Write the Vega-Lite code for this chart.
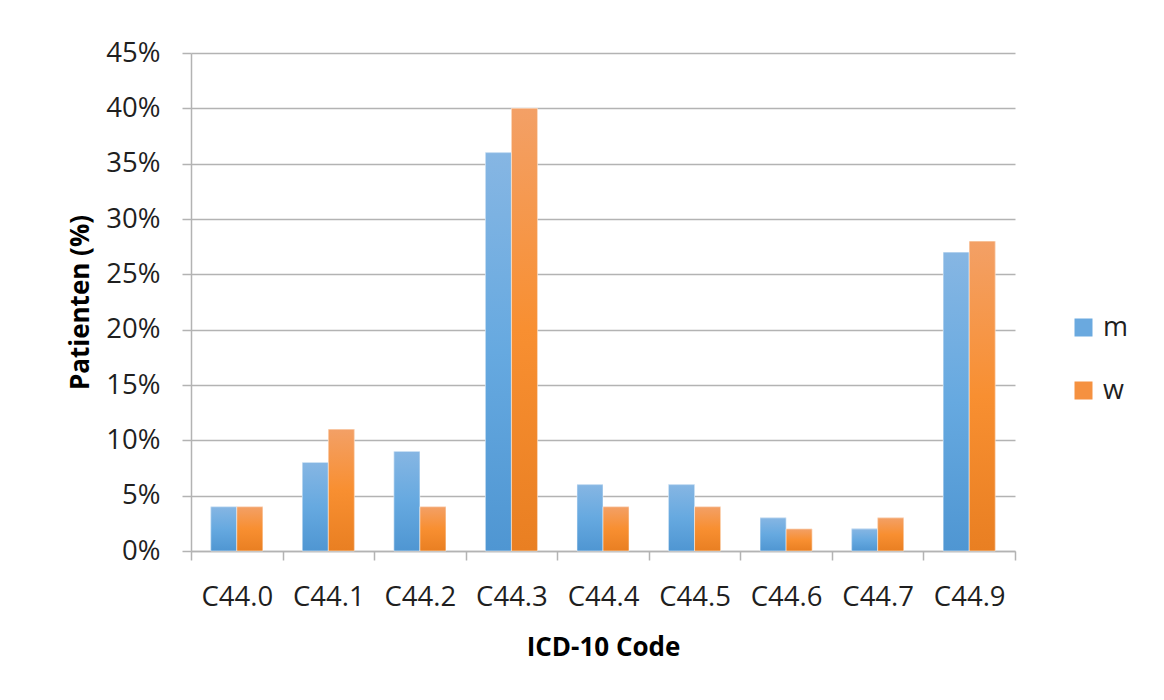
{
  "$schema": "https://vega.github.io/schema/vega-lite/v6.json",
  "width": 824,
  "height": 498,
  "autosize": {"type": "none"},
  "padding": {"left": 191, "top": 53, "right": 149, "bottom": 149},
  "background": "white",
  "data": {
    "values": [
      {"code": "C44.0", "sex": "m", "share": 0.04},
      {"code": "C44.0", "sex": "w", "share": 0.04},
      {"code": "C44.1", "sex": "m", "share": 0.08},
      {"code": "C44.1", "sex": "w", "share": 0.11},
      {"code": "C44.2", "sex": "m", "share": 0.09},
      {"code": "C44.2", "sex": "w", "share": 0.04},
      {"code": "C44.3", "sex": "m", "share": 0.36},
      {"code": "C44.3", "sex": "w", "share": 0.40},
      {"code": "C44.4", "sex": "m", "share": 0.06},
      {"code": "C44.4", "sex": "w", "share": 0.04},
      {"code": "C44.5", "sex": "m", "share": 0.06},
      {"code": "C44.5", "sex": "w", "share": 0.04},
      {"code": "C44.6", "sex": "m", "share": 0.03},
      {"code": "C44.6", "sex": "w", "share": 0.02},
      {"code": "C44.7", "sex": "m", "share": 0.02},
      {"code": "C44.7", "sex": "w", "share": 0.03},
      {"code": "C44.9", "sex": "m", "share": 0.27},
      {"code": "C44.9", "sex": "w", "share": 0.28}
    ]
  },
  "encoding": {
    "x": {
      "field": "code",
      "type": "nominal",
      "scale": {"paddingInner": 0, "paddingOuter": 0},
      "axis": {
        "title": "ICD-10 Code",
        "labelAngle": 0,
        "tickBand": "extent",
        "tickSize": 9,
        "labelPadding": 23,
        "titlePadding": 24,
        "grid": false
      }
    },
    "xOffset": {
      "field": "sex",
      "type": "nominal",
      "scale": {"domain": ["m", "w"], "paddingInner": 0, "paddingOuter": 0.76}
    },
    "y": {
      "field": "share",
      "type": "quantitative",
      "scale": {"domain": [0, 0.45], "nice": false, "zero": true},
      "axis": {
        "title": "Patienten (%)",
        "format": ".0%",
        "values": [0, 0.05, 0.1, 0.15, 0.2, 0.25, 0.3, 0.35, 0.4, 0.45],
        "tickSize": 9,
        "labelPadding": 22,
        "titlePadding": 12,
        "grid": true
      }
    }
  },
  "layer": [
    {
      "mark": {"type": "bar"},
      "encoding": {
        "color": {
          "field": "sex",
          "type": "nominal",
          "scale": {"domain": ["m", "w"], "range": ["#6aa9df", "#f59140"]},
          "legend": {
            "title": null,
            "orient": "none",
            "legendX": 879,
            "legendY": 261,
            "symbolType": "square",
            "symbolSize": 324,
            "symbolStrokeWidth": 0,
            "symbolOpacity": 1,
            "labelFontSize": 27,
            "labelOffset": 6,
            "rowPadding": 35
          }
        }
      }
    },
    {
      "transform": [{"filter": "datum.sex === 'm'"}],
      "mark": {
        "type": "bar",
        "stroke": "#ffffff",
        "strokeOpacity": 0.5,
        "strokeWidth": 1,
        "color": {"gradient": "linear", "x1": 0, "y1": 0, "x2": 0, "y2": 1,
          "stops": [{"offset": 0, "color": "#86b6e3"}, {"offset": 0.5, "color": "#66a9e0"}, {"offset": 1, "color": "#4f96d2"}]}
      }
    },
    {
      "transform": [{"filter": "datum.sex === 'w'"}],
      "mark": {
        "type": "bar",
        "stroke": "#ffffff",
        "strokeOpacity": 0.5,
        "strokeWidth": 1,
        "color": {"gradient": "linear", "x1": 0, "y1": 0, "x2": 0, "y2": 1,
          "stops": [{"offset": 0, "color": "#f3a066"}, {"offset": 0.5, "color": "#f88f31"}, {"offset": 1, "color": "#e97f22"}]}
      }
    }
  ],
  "config": {
    "font": "Open Sans",
    "view": {"stroke": null},
    "axis": {
      "domainColor": "#b3b3b3",
      "domainWidth": 1.5,
      "tickColor": "#b3b3b3",
      "tickWidth": 1.5,
      "gridColor": "#b3b3b3",
      "gridWidth": 1.5,
      "labelFont": "Open Sans",
      "labelFontSize": 27.5,
      "labelColor": "#1f1f1f",
      "titleFont": "Open Sans",
      "titleFontSize": 26,
      "titleFontWeight": "bold",
      "titleColor": "#000000"
    },
    "legend": {
      "labelFont": "Open Sans",
      "labelColor": "#1f1f1f"
    }
  }
}
